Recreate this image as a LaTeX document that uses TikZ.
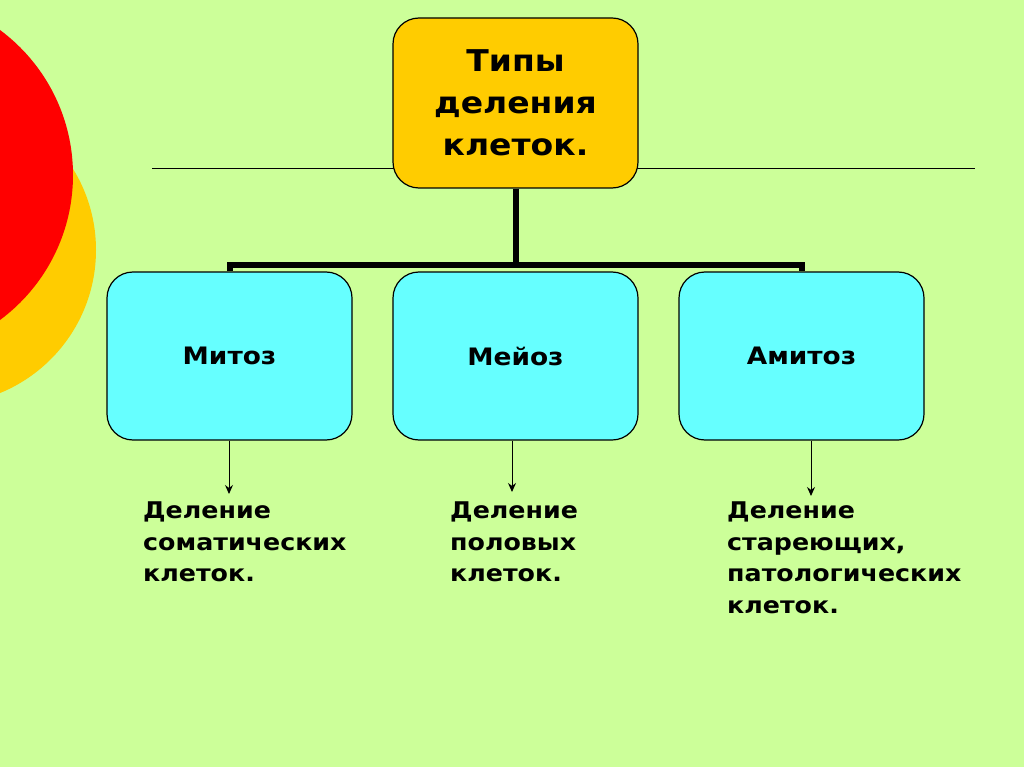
\documentclass[tikz,border=0pt]{standalone}
\usepackage{fontspec}
\setmainfont[FakeStretch=1.1]{DejaVu Sans}
\usetikzlibrary{arrows.meta}
\definecolor{bg}{HTML}{CCFF99}
\definecolor{topfill}{HTML}{FFCC00}
\definecolor{cyanfill}{HTML}{66FFFF}
\definecolor{redc}{HTML}{FF0000}
\definecolor{orangec}{HTML}{FFCC00}
\begin{document}
\begin{tikzpicture}[x=1pt,y=-1pt,
  topbox/.style={draw=black, line width=1.2pt, fill=topfill, rounded corners=26pt, minimum width=245pt, minimum height=170pt, inner sep=0pt, align=center, font=\fontsize{30}{42}\selectfont\bfseries},
  kindbox/.style={draw=black, line width=1.2pt, fill=cyanfill, rounded corners=26pt, minimum width=245pt, minimum height=168pt, inner sep=0pt, font=\fontsize{24}{30}\selectfont\bfseries},
  desc/.style={anchor=north west, align=left, inner sep=0pt, font=\fontsize{23}{31.5}\selectfont\bfseries},
  tree/.style={line width=6pt},
  arr/.style={line width=1pt, -{Stealth[length=9pt,width=8pt]}}]
\useasboundingbox (0,0) rectangle (1024,767);
\fill[bg] (0,0) rectangle (1024,767);
\begin{scope}
\clip (0,0) rectangle (1024,767);
\fill[orangec] (-58.5,250) circle (154.5pt);
\fill[redc] (-107.5,175) circle (180.5pt);
\end{scope}
\coordinate (hl) at (152,169);
\coordinate (hr) at (975,169);
\draw[line width=1pt] (hl) -- (hr);
\node[topbox] (top) at (515.5,103) {Типы\\деления\\клеток.};
\node[kindbox] (mit) at (229.5,356) {Митоз};
\node[kindbox] (mei) at (515.5,356) {Мейоз};
\node[kindbox] (ami) at (801.5,356) {Амитоз};
\coordinate (bar) at (515.5,265);
\draw[tree] (top.south) -- (bar);
\draw[tree] (mit.north) -- (mit.north |- bar) -- (ami.north |- bar) -- (ami.north);
\node[desc] (d1) at (143,502) {Деление\\соматических\\клеток.};
\node[desc] (d2) at (450,502) {Деление\\половых\\клеток.};
\node[desc] (d3) at (727,502) {Деление\\стареющих,\\патологических\\клеток.};
\coordinate (a1) at (229,494);
\coordinate (a2) at (512,492);
\coordinate (a3) at (811,496);
\draw[arr] (mit.south -| a1) -- (a1);
\draw[arr] (mei.south -| a2) -- (a2);
\draw[arr] (ami.south -| a3) -- (a3);
\end{tikzpicture}
\end{document}
